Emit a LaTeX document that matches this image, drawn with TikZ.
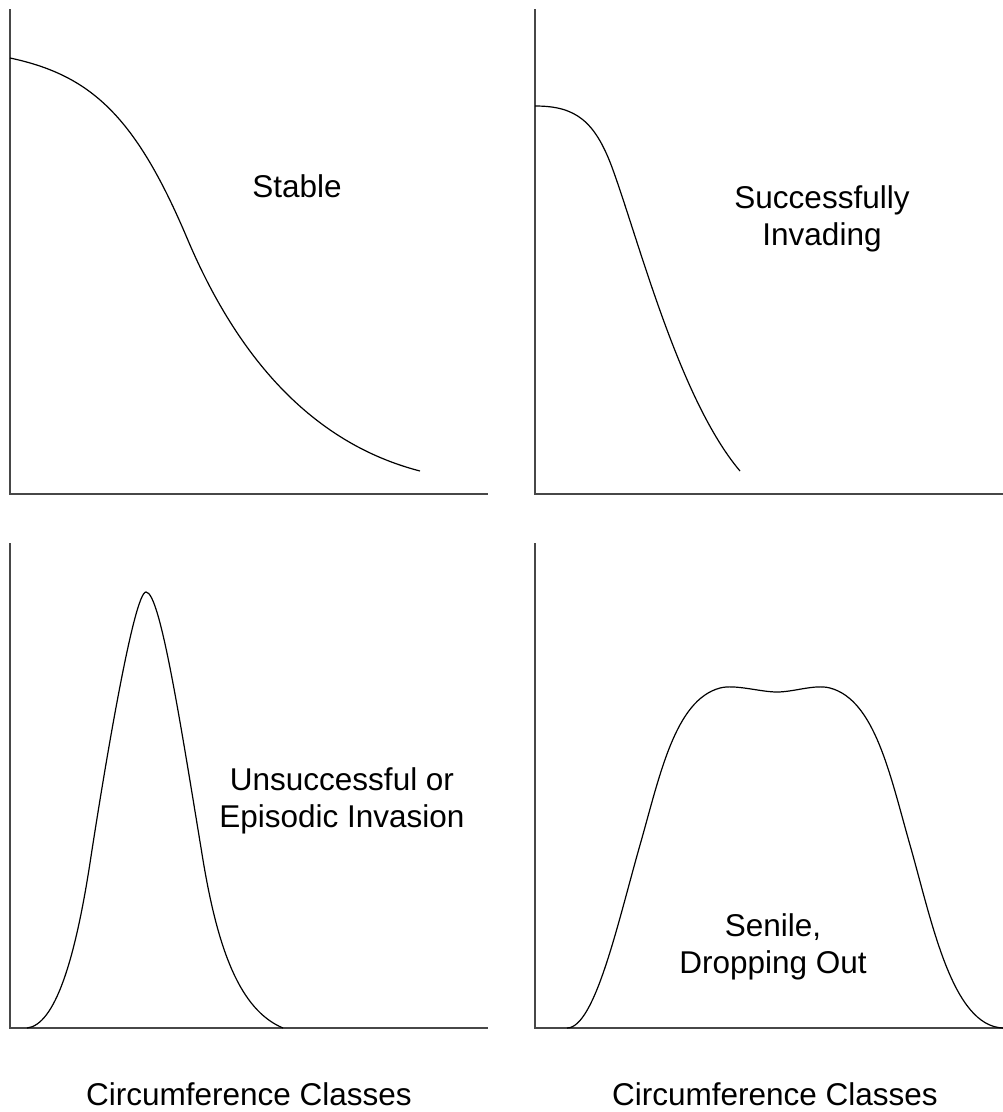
\documentclass[tikz,border=0pt]{standalone}
\usepackage{fontspec}
\setmainfont{Liberation Sans}
\begin{document}
\begin{tikzpicture}[x=1pt,y=-1pt,
  axisline/.style={line width=1.8pt, draw=black!72},
  curveline/.style={line width=1.2pt, draw=black},
  lbl/.style={align=center, inner sep=0pt, font=\fontsize{31.5}{37}\selectfont}]
\useasboundingbox (0,0) rectangle (1003,1112);
% axes corners
\coordinate (tlTop) at (10,9);   \coordinate (tlO) at (10,494);   \coordinate (tlR) at (488,494);
\coordinate (trTop) at (535,9);  \coordinate (trO) at (535,494);  \coordinate (trR) at (1003,494);
\coordinate (blTop) at (10,543); \coordinate (blO) at (10,1028);  \coordinate (blR) at (488,1028);
\coordinate (brTop) at (535,543);\coordinate (brO) at (535,1028); \coordinate (brR) at (1003,1028);
\draw[axisline] (tlTop) -- (tlO) -- (tlR);
\draw[axisline] (trTop) -- (trO) -- (trR);
\draw[axisline] (blTop) -- (blO) -- (blR);
\draw[axisline] (brTop) -- (brO) -- (brR);
% Stable
\draw[curveline] (10,58) .. controls (90,75) and (135,115) .. (187,238)
  .. controls (230,340) and (300,440) .. (420,471);
% Successfully invading
\draw[curveline] (535,106) .. controls (575,106) and (595,120) .. (613,170)
  .. controls (640,245) and (680,400) .. (740,471);
% Unsuccessful or episodic invasion
\draw[curveline] (27,1028) .. controls (55,1025) and (75,960) .. (90,863)
  .. controls (105,765) and (134,592) .. (146,592)
  .. controls (160,592) and (180,720) .. (203,860)
  .. controls (218,950) and (240,1010) .. (283,1028);
% Senile, dropping out
\draw[curveline] (567,1028) .. controls (595,1028) and (618,922) .. (640,845)
  .. controls (660,775) and (675,700) .. (720,688)
  .. controls (735,684) and (760,692) .. (777,692)
  .. controls (794,692) and (815,684) .. (830,688)
  .. controls (875,700) and (890,775) .. (910,845)
  .. controls (932,922) and (952,1026) .. (1003,1028);
% labels
\node[lbl, anchor=base] (stable) at (297,197) {Stable};
\node[lbl, anchor=base] (succ) at (822,245) {Successfully\\Invading};
\node[lbl, anchor=base] (unsucc) at (342,827) {Unsuccessful or\\Episodic Invasion};
\node[lbl, anchor=base] (senile) at (773,973) {Senile,\\Dropping Out};
\node[lbl, anchor=base] (xl) at (249,1105) {Circumference Classes};
\node[lbl, anchor=base] (xr) at (775,1105) {Circumference Classes};
\end{tikzpicture}
\end{document}
